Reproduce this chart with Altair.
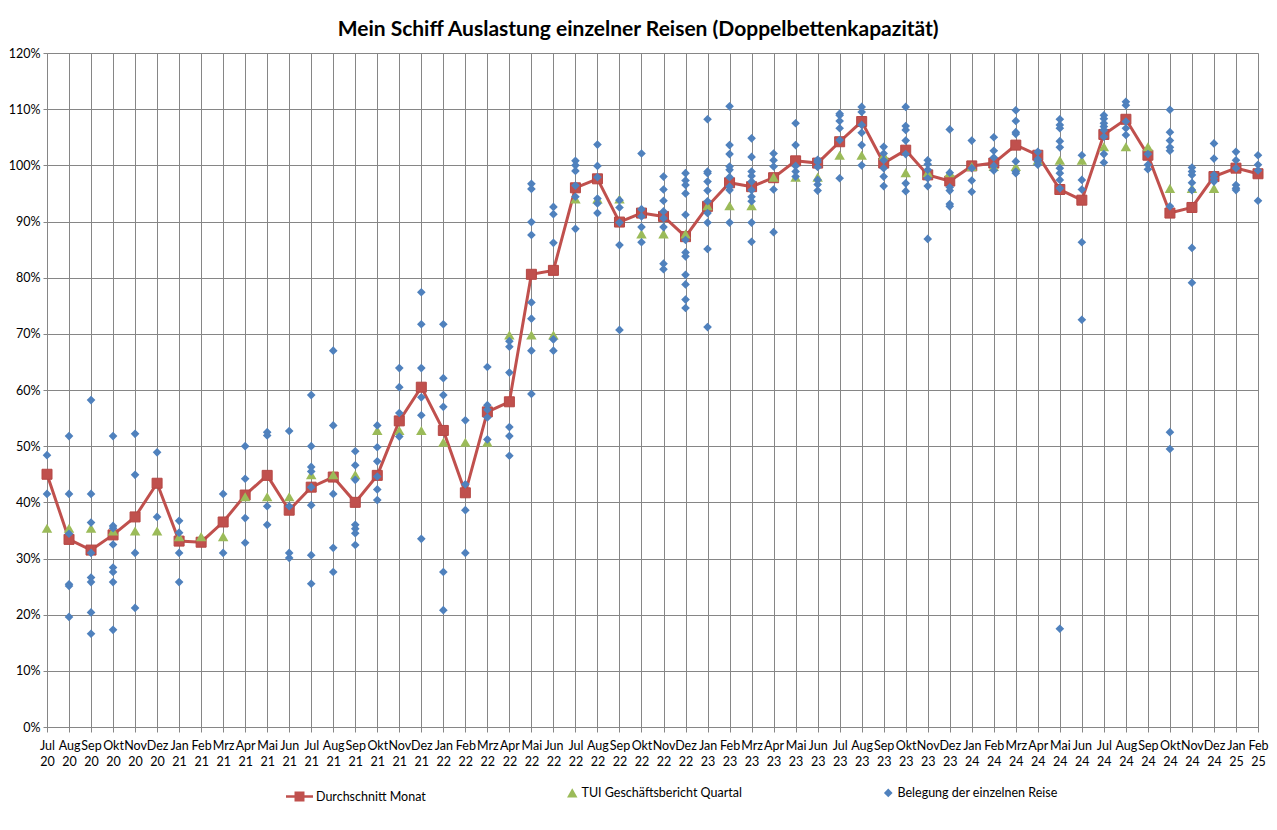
import altair as alt
import pandas as pd

# ---- data (percent values) ----
months = [
    "Jul 20", "Aug 20", "Sep 20", "Okt 20", "Nov 20", "Dez 20",
    "Jan 21", "Feb 21", "Mrz 21", "Apr 21", "Mai 21", "Jun 21",
    "Jul 21", "Aug 21", "Sep 21", "Okt 21", "Nov 21", "Dez 21",
    "Jan 22", "Feb 22", "Mrz 22", "Apr 22", "Mai 22", "Jun 22",
    "Jul 22", "Aug 22", "Sep 22", "Okt 22", "Nov 22", "Dez 22",
    "Jan 23", "Feb 23", "Mrz 23", "Apr 23", "Mai 23", "Jun 23",
    "Jul 23", "Aug 23", "Sep 23", "Okt 23", "Nov 23", "Dez 23",
    "Jan 24", "Feb 24", "Mrz 24", "Apr 24", "Mai 24", "Jun 24",
    "Jul 24", "Aug 24", "Sep 24", "Okt 24", "Nov 24", "Dez 24",
    "Jan 25", "Feb 25",
]

avg_month = [
    45.0, 33.4, 31.5, 34.2, 37.4, 43.4,
    33.1, 32.9, 36.5, 41.3, 44.8, 38.6,
    42.7, 44.5, 40.0, 44.8, 54.5, 60.5,
    52.8, 41.7, 56.1, 57.9, 80.6, 81.3,
    96.0, 97.6, 89.9, 91.5, 90.9, 87.3,
    92.7, 96.9, 96.2, 97.8, 100.8, 100.4,
    104.2, 107.8, 100.4, 102.7, 98.3, 97.2,
    99.9, 100.4, 103.6, 101.8, 95.7, 93.8,
    105.5, 108.2, 101.8, 91.5, 92.5, 98.0,
    99.5, 98.5,
]

# TUI quarterly report, Q3 2020 ... Q4 2024
tui_quarter = [
    35.4, 34.9,
    33.9, 41.0, 44.9, 52.8,
    50.7, 69.8, 94.0, 87.8,
    92.8, 97.9, 101.8, 98.7,
    99.8, 100.9, 103.3, 95.9,
]

trips_2020 = [
    [48.4, 41.5],
    [51.8, 41.5, 34.4, 25.4, 25.1, 19.6],
    [58.2, 41.5, 36.4, 31.0, 26.6, 25.8, 20.4, 16.6],
    [51.8, 35.8, 35.4, 32.5, 28.4, 27.6, 25.8, 17.3],
    [52.2, 44.9, 31.0, 21.2],
    [48.9, 37.4],
]
trips_2021 = [
    [36.7, 34.6, 31.0, 25.8],
    [],
    [41.5, 31.0],
    [50.0, 44.2, 37.2, 32.8],
    [52.5, 51.9, 39.3, 36.0],
    [52.7, 39.3, 31.0, 30.1],
    [59.1, 50.0, 46.3, 45.5, 42.7, 39.5, 30.6, 25.5],
    [67.0, 53.7, 41.5, 31.9, 27.6],
    [49.1, 46.6, 44.0, 36.0, 35.3, 34.5, 32.4],
    [53.7, 49.8, 47.3, 44.6, 42.3, 40.4],
    [63.9, 60.5, 55.9, 51.7],
    [77.4, 71.7, 63.9, 58.7, 55.5, 33.5],
]
trips_2022 = [
    [71.7, 62.1, 59.1, 57.0, 27.6, 20.8],
    [54.6, 43.2, 38.6, 31.0],
    [64.1, 57.3, 56.5, 55.1, 51.2],
    [68.7, 67.7, 63.1, 53.4, 51.8, 48.3],
    [96.7, 95.8, 89.9, 87.6, 75.6, 72.7, 67.0, 59.3],
    [92.6, 91.3, 86.2, 69.0, 67.0],
    [100.8, 100.0, 99.0, 96.4, 94.4, 88.7],
    [103.7, 99.9, 97.9, 94.1, 93.2, 91.5],
    [93.8, 92.5, 89.8, 85.8, 70.7],
    [102.1, 92.2, 90.9, 89.0, 86.3],
    [98.0, 95.7, 93.7, 91.8, 90.6, 89.0, 82.5, 81.5],
    [98.6, 97.3, 96.5, 95.0, 91.2, 86.7, 84.5, 83.8, 80.5, 78.8, 76.1, 74.6],
]
trips_2023 = [
    [108.2, 98.9, 98.6, 97.1, 95.5, 93.6, 91.5, 89.8, 85.1, 71.2],
    [110.5, 103.6, 102.0, 99.8, 99.2, 97.9, 96.2, 95.6, 89.8],
    [104.8, 101.5, 98.9, 98.1, 97.1, 95.6, 94.4, 93.6, 89.8, 86.4],
    [102.1, 100.9, 99.8, 95.7, 88.1],
    [107.5, 103.6, 99.9, 98.9, 98.0],
    [101.0, 100.6, 99.7, 97.4, 96.6, 95.5],
    [109.2, 108.9, 107.9, 106.6, 104.5, 97.7],
    [110.4, 109.5, 107.2, 105.8, 103.6, 100.0],
    [103.3, 102.1, 100.9, 99.5, 98.0, 96.3],
    [110.4, 107.0, 106.3, 104.4, 102.0, 96.8, 95.4],
    [100.9, 100.2, 99.2, 97.7, 96.3, 86.9],
    [106.4, 98.7, 96.1, 95.5, 93.1, 92.7],
]
trips_2024 = [
    [104.4, 99.5, 97.3, 95.3],
    [105.0, 102.6, 101.4, 99.9, 99.1],
    [109.8, 107.9, 105.9, 105.6, 100.7, 98.9, 98.6],
    [102.4, 101.1, 100.7, 100.1],
    [108.2, 107.2, 106.6, 104.3, 103.2, 99.5, 98.6, 97.4, 95.9, 17.5],
    [101.8, 97.4, 95.7, 86.3, 72.5],
    [108.9, 108.3, 107.5, 106.9, 106.3, 105.1, 102.0, 100.5],
    [111.3, 110.7, 107.8, 106.6, 105.4],
    [102.0, 100.1, 99.3],
    [109.9, 105.9, 104.4, 103.2, 102.6, 92.7, 52.5, 49.5],
    [99.6, 98.9, 98.3, 96.9, 95.6, 85.3, 79.1],
    [103.9, 101.2, 98.3, 97.7, 97.1],
]
trips_2025 = [
    [102.4, 100.9, 99.5, 96.5, 95.9, 95.6],
    [101.8, 100.1, 99.1, 93.7],
]

series_names = ["Durchschnitt Monat", "TUI Geschäftsbericht Quartal", "Belegung der einzelnen Reise"]
series_colors = ["#C0504D", "#9BBB59", "#4F81BD"]

# ---- tables ----
avg_df = pd.DataFrame({"month": months, "value": [v / 100 for v in avg_month],
                       "series": series_names[0]})
tui_rows = []
for q, v in enumerate(tui_quarter):
    for k in range(3):
        tui_rows.append({"month": months[3 * q + k], "value": v / 100, "series": series_names[1]})
tui_df = pd.DataFrame(tui_rows)
trips = trips_2020 + trips_2021 + trips_2022 + trips_2023 + trips_2024 + trips_2025
trip_rows = [{"month": months[i], "value": v / 100, "series": series_names[2]}
             for i, vals in enumerate(trips) for v in vals]
trip_df = pd.DataFrame(trip_rows)

FONT = "Lato"
GRID = "#868686"

x_enc = alt.X(
    "month:O",
    scale=alt.Scale(type="point", padding=0, domain=months),
    axis=alt.Axis(
        title=None, labelExpr="split(datum.label, ' ')", labelAngle=0,
        labelOverlap=False, labelBound=False, grid=True, gridColor=GRID, gridWidth=1,
        domainColor=GRID, tickColor=GRID, tickSize=5, labelPadding=7,
        labelLineHeight=16, labelBaseline="top", labelFontSize=12.5, labelFont=FONT,
        labelColor="#000000",
    ),
)
y_enc = alt.Y(
    "value:Q",
    scale=alt.Scale(domain=[0, 1.2], nice=False),
    axis=alt.Axis(
        title=None, format=".0%", values=[i / 10 for i in range(13)], grid=True,
        gridColor=GRID, gridWidth=1, domainColor=GRID, tickColor=GRID, tickSize=4,
        labelPadding=3, labelFontSize=12.5, labelFont=FONT, labelColor="#000000",
    ),
)

legend = alt.Legend(
    title=None, orient="none", legendX=239, legendY=730, direction="horizontal",
    labelFont=FONT, labelFontSize=12.5, labelColor="#000000", columnPadding=140,
    labelOffset=3, symbolStrokeWidth=0, labelLimit=400,
)
color_scale = alt.Scale(domain=series_names, range=series_colors)
legend_line_square = "M-1,-0.09H1V0.09H-1Z M-0.37,-0.37H0.37V0.37H-0.37Z"
shape_scale = alt.Scale(domain=series_names, range=[legend_line_square, "triangle-up", "diamond"])
size_scale = alt.Scale(type="ordinal", domain=series_names, range=[729, 110, 75])

color_enc = alt.Color("series:N", scale=color_scale, legend=legend)
shape_enc = alt.Shape("series:N", scale=shape_scale, legend=legend)
size_enc = alt.Size("series:N", scale=size_scale, legend=legend)

line = alt.Chart(avg_df).mark_line(color="#C0504D", strokeWidth=3).encode(x=x_enc, y=y_enc)
squares = alt.Chart(avg_df).mark_point(filled=True, opacity=1, shape="square", size=100,
                                       stroke="#B64744", strokeWidth=1).encode(
    x=x_enc, y=y_enc, color=color_enc)
triangles = alt.Chart(tui_df).mark_point(filled=True, opacity=1).encode(
    x=x_enc, y=y_enc, color=color_enc, shape=shape_enc, size=size_enc)
diamonds = alt.Chart(trip_df).mark_point(filled=True, opacity=1).encode(
    x=x_enc, y=y_enc, color=color_enc, shape=shape_enc, size=size_enc)

chart = alt.layer(line, squares, triangles, diamonds).properties(
    width=1211, height=674,
    padding={"left": 0, "top": 11, "right": 0, "bottom": 2},
    title=alt.Title(
        "Mein Schiff Auslastung einzelner Reisen (Doppelbettenkapazität)",
        font=FONT, fontSize=21, fontWeight="bold", color="#000000",
        anchor="middle", frame="bounds", offset=7,
    ),
).configure_view(stroke=None).configure(font=FONT)

chart.save("out.html", embed_options={"renderer": "svg", "actions": False})
